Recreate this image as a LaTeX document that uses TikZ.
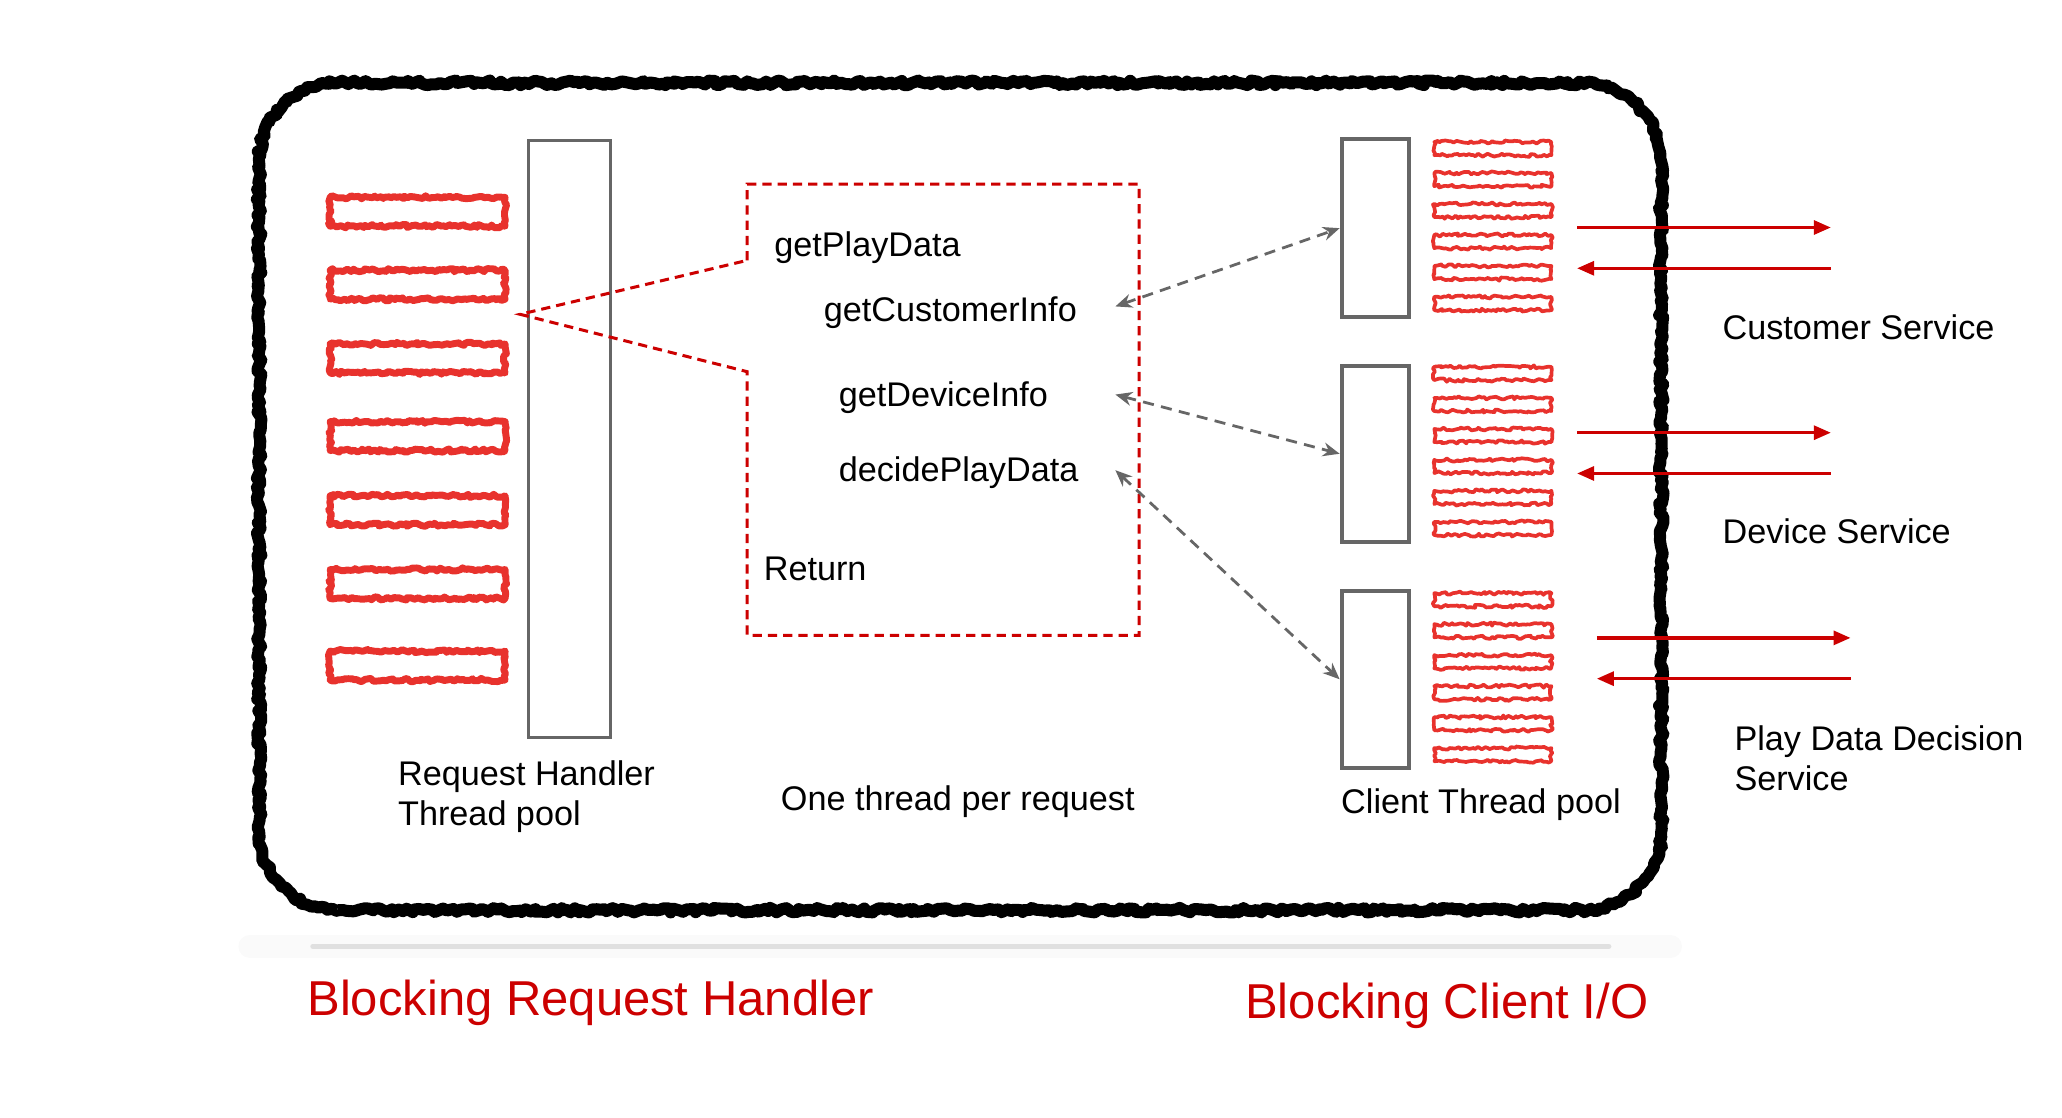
\documentclass[tikz,border=0pt]{standalone}
\usepackage{fontspec}
\setmainfont{Liberation Sans}
\usetikzlibrary{arrows.meta,decorations.pathmorphing}
\definecolor{nfred}{HTML}{CC0000}
\definecolor{hatchred}{HTML}{E8322D}
\definecolor{poolgray}{HTML}{666666}

\begin{document}
\begin{tikzpicture}[
  pool/.style={draw=poolgray, line width=0.85pt, inner sep=0pt},
  threadbox/.style={draw=hatchred, line join=round, decorate, decoration={random steps, segment length=0.6pt, amplitude=0.35pt}},
  txt/.style={font=\fontsize{7.4}{8.6}\selectfont, inner sep=0pt},
  headline/.style={font=\fontsize{10.6}{12}\selectfont, text=nfred, inner sep=0pt, anchor=base west},
  callarrow/.style={poolgray, line width=0.6pt, dash pattern=on 2.4pt off 1.6pt, {Stealth[length=3.6pt,width=3pt]}-{Stealth[length=3.6pt,width=3pt]}},
  ioarrow/.style={nfred, line width=0.75pt, -{Triangle[length=3.7pt,width=3pt]}}
]
\pgfmathsetseed{11}
\useasboundingbox (0,0) rectangle (15.677,8.5);

% Shadow under the service box
\draw[line width=5pt, black!2, line cap=round] (1.9,1.305) -- (12.7,1.305);
\draw[line width=1.2pt, black!12, line cap=round] (2.38,1.305) -- (12.23,1.305);

% Service border (brush stroke)
\draw[line width=2.6pt, line join=round, decorate, decoration={random steps, segment length=0.8pt, amplitude=0.5pt}]
  (2.57,1.58) -- (12.03,1.58) arc[start angle=-90, end angle=0, radius=0.6]
  -- (12.63,7.27) arc[start angle=0, end angle=90, radius=0.6]
  -- (2.57,7.87) arc[start angle=90, end angle=180, radius=0.6]
  -- (1.97,2.18) arc[start angle=180, end angle=270, radius=0.6] -- cycle;

% Request handler thread pool
\foreach \y in {6.89,6.335,5.775,5.184,4.62,4.06,3.44}
  \draw[threadbox, line width=1.5pt] (2.51,\y-0.11) rectangle (3.84,\y+0.11);
\node[pool, line width=0.6pt, minimum width=0.62cm, minimum height=4.54cm] (reqpool) at (4.33,5.16) {};
\node[txt, anchor=west, align=left] (reqlbl) at (3.02,2.445) {Request Handler\\Thread pool};

% One thread per request
\draw[nfred, line width=0.65pt, dash pattern=on 2pt off 1.3pt]
  (5.68,6.52) -- (5.68,7.10) -- (8.66,7.10) -- (8.66,3.67) -- (5.68,3.67) -- (5.68,5.674) -- (3.955,6.11) -- cycle;
\node[txt, anchor=base west] (playdata) at (5.88,6.553) {getPlayData};
\node[txt, anchor=base west] (custinfo) at (6.257,6.054) {getCustomerInfo};
\node[txt, anchor=base west] (devinfo) at (6.37,5.41) {getDeviceInfo};
\node[txt, anchor=base west] (decide) at (6.37,4.84) {decidePlayData};
\node[txt, anchor=base west] (ret) at (5.80,4.09) {Return};
\node[txt, anchor=base west] (onethread) at (5.93,2.34) {One thread per request};

% Client thread pools
\node[pool, minimum width=0.515cm, minimum height=1.35cm] (cp1) at (10.4575,6.765) {};
\node[pool, minimum width=0.515cm, minimum height=1.34cm] (cp2) at (10.4575,5.05) {};
\node[pool, minimum width=0.515cm, minimum height=1.35cm] (cp3) at (10.4575,3.335) {};
\foreach \top in {7.37,5.66,3.94}
  \foreach \i in {0,...,5}
    \draw[threadbox, line width=0.8pt] (10.905,\top-\i*0.2356-0.05) rectangle (11.795,\top-\i*0.2356+0.05);
\node[txt, anchor=base west] (clientlbl) at (10.19,2.315) {Client Thread pool};

% Calls from the request thread to the client pools
\coordinate (cust-tip) at (8.48,6.17);
\coordinate (dev-tip) at (8.48,5.50);
\coordinate (pdd-tip) at (8.48,4.925);
\draw[callarrow] (cust-tip) -- (cp1.west);
\draw[callarrow] (dev-tip) -- (cp2.west);
\draw[callarrow] (pdd-tip) -- (cp3.west);

% Remote services
\foreach \svc/\x/\y in {cust/11.99/6.77, dev/11.99/5.21, pdd/12.14/3.65} {
  \coordinate (\svc-a) at (\x,\y);
  \coordinate (\svc-b) at (\x+1.93,\y);
  \coordinate (\svc-c) at (\x+1.93,\y-0.31);
  \coordinate (\svc-d) at (\x,\y-0.31);
  \draw[ioarrow] (\svc-a) -- (\svc-b);
  \draw[ioarrow] (\svc-c) -- (\svc-d);
}
\node[txt, anchor=base west] (custsvc) at (13.09,5.92) {Customer Service};
\node[txt, anchor=base west] (devsvc) at (13.09,4.37) {Device Service};
\node[txt, anchor=west, align=left] (pddsvc) at (13.18,2.737) {Play Data Decision\\Service};

% Titles
\node[headline] (blockreq) at (2.33,0.78) {Blocking Request Handler};
\node[headline] (blockcli) at (9.46,0.757) {Blocking Client I/O};
\end{tikzpicture}
\end{document}
